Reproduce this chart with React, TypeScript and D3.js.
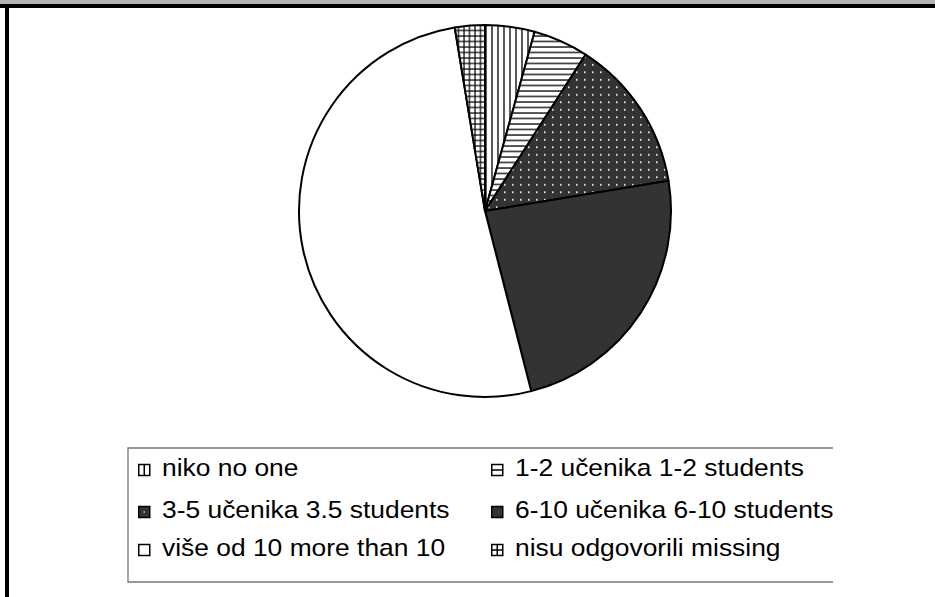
import React, { useEffect, useRef } from 'react';
import * as d3 from 'd3';

// share of answers (clockwise from 12 o'clock)
const categories = [
  'niko no one',
  '1-2 učenika 1-2 students',
  '3-5 učenika 3.5 students',
  '6-10 učenika 6-10 students',
  'više od 10 more than 10',
  'nisu odgovorili missing',
];
const values = [4.3, 4.8, 13.3, 23.6, 51.4, 2.6];
const fills = ['url(#vlines)', 'url(#hlines)', 'url(#dots)', '#333333', '#ffffff', 'url(#grid)'];

export default function App() {
  const ref = useRef<SVGSVGElement>(null);

  useEffect(() => {
    const svg = d3.select(ref.current);
    svg.selectAll('*').remove();

    const W = 935;
    const H = 597;
    const cx = 485;
    const cy = 211;
    const r = 186;

    // frame
    svg.append('rect').attr('x', 0).attr('y', 0).attr('width', W).attr('height', H).attr('fill', '#fff');
    svg.append('rect').attr('x', 0).attr('y', 0).attr('width', W).attr('height', 4).attr('fill', '#b4b4b4');
    svg.append('rect').attr('x', 0).attr('y', 4).attr('width', W).attr('height', 4).attr('fill', '#000');
    svg.append('rect').attr('x', 5).attr('y', 4).attr('width', 4).attr('height', H - 4).attr('fill', '#000');

    // fill patterns
    const defs = svg.append('defs');
    const vl = defs.append('pattern').attr('id', 'vlines').attr('patternUnits', 'userSpaceOnUse')
      .attr('width', 6).attr('height', 6);
    vl.append('rect').attr('width', 6).attr('height', 6).attr('fill', '#fff');
    vl.append('line').attr('x1', 1).attr('x2', 1).attr('y1', 0).attr('y2', 6).attr('stroke', '#000').attr('stroke-width', 1.3);

    const hl = defs.append('pattern').attr('id', 'hlines').attr('patternUnits', 'userSpaceOnUse')
      .attr('width', 6).attr('height', 5.5);
    hl.append('rect').attr('width', 6).attr('height', 5.5).attr('fill', '#fff');
    hl.append('line').attr('x1', 0).attr('x2', 6).attr('y1', 1).attr('y2', 1).attr('stroke', '#000').attr('stroke-width', 1.3);

    const dt = defs.append('pattern').attr('id', 'dots').attr('patternUnits', 'userSpaceOnUse')
      .attr('width', 8).attr('height', 7.5);
    dt.append('rect').attr('width', 8).attr('height', 7.5).attr('fill', '#333333');
    dt.append('rect').attr('x', 3).attr('y', 3).attr('width', 1.6).attr('height', 1.6).attr('fill', '#fff');

    const gr = defs.append('pattern').attr('id', 'grid').attr('patternUnits', 'userSpaceOnUse')
      .attr('width', 5.5).attr('height', 5.5);
    gr.append('rect').attr('width', 5.5).attr('height', 5.5).attr('fill', '#fff');
    gr.append('line').attr('x1', 1).attr('x2', 1).attr('y1', 0).attr('y2', 5.5).attr('stroke', '#000').attr('stroke-width', 1.2);
    gr.append('line').attr('x1', 0).attr('x2', 5.5).attr('y1', 1).attr('y2', 1).attr('stroke', '#000').attr('stroke-width', 1.2);

    // pie
    const pie = d3.pie<number>().sort(null).value(d => d);
    const arc = d3.arc<d3.PieArcDatum<number>>().innerRadius(0).outerRadius(r);

    const g = svg.append('g').attr('transform', `translate(${cx},${cy})`);
    g.selectAll('path')
      .data(pie(values))
      .enter()
      .append('path')
      .attr('d', arc)
      .attr('fill', (d, i) => fills[i])
      .attr('stroke', '#000')
      .attr('stroke-width', 2)
      .attr('stroke-linejoin', 'round');

    // legend box (open on the right)
    const lx = 128, ly = 448, lw = 705, lh = 134;
    svg.append('path')
      .attr('d', `M${lx + lw},${ly}H${lx}V${ly + lh}H${lx + lw}`)
      .attr('fill', 'none')
      .attr('stroke', '#777')
      .attr('stroke-width', 1.3);

    const colX = [138, 491];
    const rowY = [476, 518, 556];
    const items = svg.selectAll('g.item')
      .data(categories)
      .enter()
      .append('g')
      .attr('class', 'item')
      .attr('transform', (d, i) => `translate(${colX[i % 2]},${rowY[Math.floor(i / 2)]})`);

    items.each(function (d, i) {
      const it = d3.select(this);
      const s = 11;
      it.append('rect')
        .attr('x', 0.75).attr('y', -s - 0.5).attr('width', s).attr('height', s)
        .attr('stroke', '#000').attr('stroke-width', 1.5)
        .attr('fill', i === 2 || i === 3 ? '#333333' : '#fff');
      if (i === 0 || i === 5) {
        it.append('line').attr('x1', 0.75 + s / 2).attr('x2', 0.75 + s / 2).attr('y1', -s - 0.5).attr('y2', -0.5)
          .attr('stroke', '#000').attr('stroke-width', 1.5);
      }
      if (i === 1 || i === 5) {
        it.append('line').attr('x1', 0.75).attr('x2', 0.75 + s).attr('y1', -0.5 - s / 2).attr('y2', -0.5 - s / 2)
          .attr('stroke', '#000').attr('stroke-width', 1.5);
      }
      if (i === 2) {
        it.append('rect').attr('x', 0.75 + s / 2 - 0.6).attr('y', -0.5 - s / 2 - 0.6)
          .attr('width', 1.2).attr('height', 1.2).attr('fill', '#fff');
      }
      it.append('text')
        .attr('transform', 'translate(24,0) scale(1.1,1)')
        .attr('font-family', '"Liberation Sans", Arial, sans-serif')
        .attr('font-size', 24)
        .attr('fill', '#000')
        .text(d);
    });
  }, []);

  return (
    <svg ref={ref} width={935} height={597}
      style={{ position: 'absolute', left: 0, top: 0, display: 'block' }} />
  );
}
